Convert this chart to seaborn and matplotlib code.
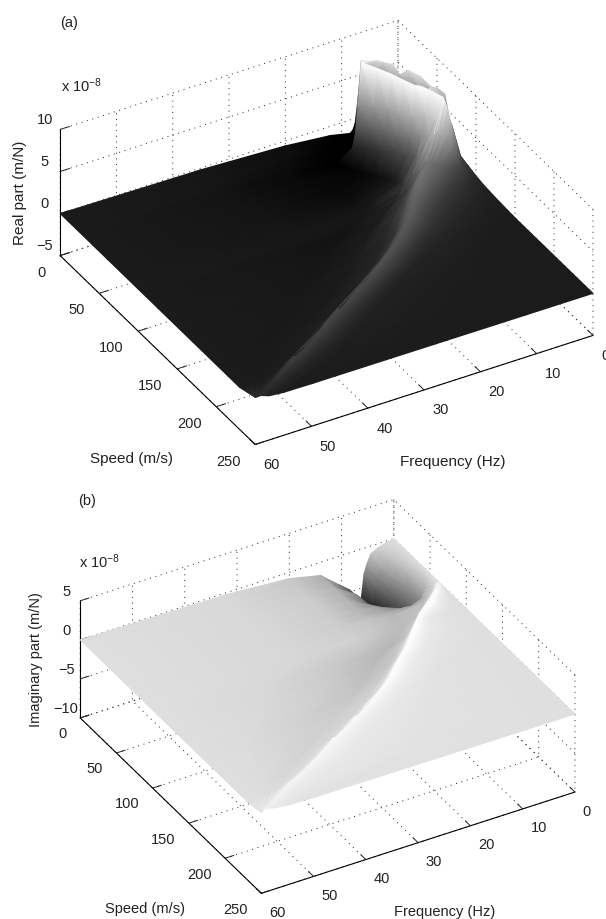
import matplotlib
matplotlib.use('Agg')
import matplotlib.pyplot as plt
import numpy as np
import seaborn as sns
from mpl_toolkits.mplot3d import proj3d

speeds = [0, 10, 20, 30, 40, 50, 60, 70, 80, 90, 95, 100, 110, 125, 140, 155, 170, 185, 200, 215, 230, 250]

# the frequency nodes follow the ridge, one row per speed
freq_re = [
    [0, 2, 4, 5, 5.8, 6.4, 7.1, 7.6, 8, 8.5, 12, 20, 35, 60],
    [0, 2, 4, 5.5, 6.5, 7.2, 8, 8.6, 9, 9.6, 13, 20, 35, 60],
    [0, 2, 4, 5.5, 6.5, 7.8, 9.3, 10, 10.4, 11, 14, 22, 35, 60],
    [0, 2, 3.8, 5, 6.5, 8, 10.5, 11.1, 11.6, 12.2, 15, 23, 36, 60],
    [0, 1.8, 3.8, 5.5, 7, 8.4, 9.3, 9.9, 10.4, 11, 14, 22, 35, 60],
    [0, 1.5, 3, 4.5, 6, 7.4, 8.2, 8.8, 9.3, 10, 13, 21, 34, 60],
    [0, 1.2, 2.4, 4, 5.5, 6.7, 7.4, 8, 8.5, 9, 12, 20, 33, 60],
    [0, 1.5, 3, 4.5, 5.5, 6, 6.5, 7.1, 7.6, 8.2, 11, 19, 32, 60],
    [0, 1.5, 3, 4, 4.7, 5.1, 5.4, 6.2, 7, 8, 11, 19, 32, 60],
    [0, 1.5, 3, 3.8, 4.2, 4.5, 5, 5.8, 7, 9, 11.5, 18, 32, 60],
    [0, 2, 3.5, 4.8, 5.6, 6.2, 6.8, 7.6, 8.8, 10.5, 13, 19, 33, 60],
    [0, 2.5, 5, 6.2, 7.6, 8.4, 9, 9.8, 10.8, 12.2, 15, 21, 34, 60],
    [0, 3, 6, 8, 9.6, 10.6, 11.3, 12.3, 13.5, 15.3, 18.5, 26, 38, 60],
    [0, 4, 7.5, 10.5, 12.4, 13.5, 14.5, 15.7, 17, 19, 23, 30, 42, 60],
    [0, 5, 9.5, 13, 15, 16.4, 17.5, 18.7, 20, 22, 27, 34, 45, 60],
    [0, 6, 12.5, 17, 18.9, 20.3, 21.5, 22.7, 24.1, 26.1, 31, 39, 48, 60],
    [0, 7, 15, 21.5, 23.7, 25.3, 26.5, 27.7, 29.1, 31.1, 36, 43, 51, 60],
    [0, 8, 18, 27, 29.5, 31.1, 32.3, 33.5, 34.9, 36.9, 41, 47, 53, 60],
    [0, 9, 20, 32.5, 35.3, 37.1, 38.5, 39.7, 41.1, 43.1, 47, 51.5, 55, 60],
    [0, 10, 23, 38, 40.9, 42.5, 44, 45.2, 46.5, 48.5, 52, 55, 57.5, 60],
    [0, 11, 26, 44, 47.4, 49, 50.5, 51.7, 53, 54.6, 56.5, 58, 59, 60],
    [0, 12, 28, 50, 55, 57.5, 59, 59.5, 59.7, 59.8, 59.85, 59.9, 59.95, 60],
]

# x 10^-8 m/N, above 10 is cut off by the z limit
re_part = [
    [2.5, 3, 3.5, 4.5, 5.5, 6.5, 2.2, -0.6, -1.3, -1.6, -1.1, -0.6, -0.2, 0],
    [3, 3.5, 4.5, 6, 7, 7.2, 6.3, 1, -0.8, -1.6, -1.2, -0.6, -0.2, 0],
    [3.5, 4.5, 6, 8, 8.4, 8.6, 9, 3, -0.5, -1.7, -1.3, -0.7, -0.2, 0],
    [4, 5, 7, 8.5, 11, 11, 9.9, 5, 2, 0.2, -1.2, -0.8, -0.3, 0],
    [4.5, 6, 8.5, 11, 11, 11, 9.9, 5.5, 3, 0.8, -1, -0.8, -0.3, 0],
    [5.5, 7, 8.5, 11, 11, 11, 9.9, 6, 3.5, 1.2, -0.9, -0.8, -0.3, 0],
    [6.6, 7.5, 8, 11, 11, 11, 9.9, 6, 3.5, 1.8, -0.6, -0.8, -0.3, 0],
    [2.6, 5, 7.5, 9, 9.6, 9.8, 9.9, 6.5, 4, 2, -0.2, -0.7, -0.3, 0],
    [1.1, 5, 8, 9.2, 9.6, 9.8, 9.8, 7.5, 5, 2.8, 0.2, -0.5, -0.25, 0],
    [0.8, 2, 6.2, 8.5, 9.4, 9.9, 8.5, 7.5, 6, 3.5, 1.2, -0.2, -0.2, 0],
    [0.65, 1.8, 4, 5.5, 6.2, 6.6, 6.4, 5.6, 4.4, 2.4, 0.7, -0.2, -0.18, 0],
    [0.5, 1.5, 2.4, 3, 3.5, 3.8, 4, 3.4, 2.4, 1.4, 0.3, -0.2, -0.15, 0],
    [0.3, 0.8, 1.5, 2.4, 3.2, 3.7, 3.9, 3.2, 2, 1, 0.1, -0.4, -0.2, 0],
    [0.15, 0.4, 0.8, 1.4, 2.2, 2.9, 3.2, 2.6, 1.5, 0.7, 0.05, -0.25, -0.15, 0],
    [0.05, 0.2, 0.5, 0.9, 1.6, 2.4, 2.9, 2.3, 1.2, 0.5, 0.05, -0.2, -0.1, 0],
    [0, 0.1, 0.3, 0.6, 1.2, 2, 2.6, 2, 1, 0.4, 0, -0.15, -0.1, 0],
    [0, 0.05, 0.2, 0.4, 1, 1.8, 2.4, 1.8, 0.9, 0.3, 0, -0.1, -0.05, 0],
    [0, 0.03, 0.12, 0.3, 0.8, 1.6, 2.2, 1.6, 0.7, 0.2, 0, -0.08, -0.03, 0],
    [0, 0.02, 0.1, 0.25, 0.7, 1.4, 2, 1.4, 0.6, 0.15, 0, -0.05, -0.02, 0],
    [0, 0.02, 0.08, 0.2, 0.6, 1.2, 1.8, 1.2, 0.5, 0.12, 0, -0.03, 0, 0],
    [0, 0.02, 0.06, 0.15, 0.5, 1.1, 1.6, 1.1, 0.4, 0.1, 0, 0, 0, 0],
    [0, 0.01, 0.03, 0.06, 0.1, 0.25, 0.6, 0.6, 0.6, 0.6, 0.6, 0.6, 0.6, 0.6],
]

freq_im = [
    [0, 1.5, 3, 4.4, 5.2, 5.7, 6.3, 7, 8.5, 10.4, 14, 20, 32, 60],
    [0, 1.2, 2.5, 3.8, 4.4, 4.9, 5.4, 6.2, 7.8, 10, 14, 20, 32, 60],
    [0, 1, 2, 3, 3.6, 4.1, 4.6, 5.5, 7.2, 10, 14, 20, 32, 60],
    [0, 0.8, 1.5, 2.3, 2.8, 3.3, 3.8, 4.8, 6.6, 10, 14, 20, 32, 60],
    [0, 0.6, 1.2, 1.8, 2.2, 2.6, 3, 4, 6, 10, 14, 20, 32, 60],
    [0, 0.4, 0.8, 1.2, 1.5, 1.7, 2, 3.2, 5.5, 10, 14, 20, 32, 60],
    [0, 0.2, 0.4, 0.6, 0.7, 0.8, 1, 2.5, 5, 10, 14, 20, 32, 60],
    [0, 0.3, 0.6, 0.8, 0.9, 1, 1.2, 2, 4, 10, 14, 20, 32, 60],
    [0, 0.8, 1.6, 2.2, 2.6, 2.9, 3.2, 3.9, 5.5, 10, 14, 20, 32, 60],
    [0, 1.5, 3, 4, 4.8, 5.4, 6, 6.8, 8.3, 11, 14.5, 20, 33, 60],
    [0, 2, 4, 5.2, 6.2, 6.9, 7.5, 8.2, 9.4, 11.3, 14.2, 20, 33, 60],
    [0, 3, 6, 7, 8, 8.5, 9, 9.6, 10.4, 11.5, 14, 20, 34, 60],
    [0, 3, 6, 8.5, 9.8, 10.6, 11.3, 12, 13, 14.5, 18, 26, 38, 60],
    [0, 4, 8, 11, 12.6, 13.6, 14.5, 15.4, 16.5, 18, 22, 30, 42, 60],
    [0, 5, 10, 14.5, 16.5, 17.6, 18.5, 19.4, 20.5, 22, 26, 34, 45, 60],
    [0, 6, 13, 17.7, 20, 21.2, 22.2, 23.2, 24.4, 26.2, 31, 39, 48, 60],
    [0, 7, 15, 22.2, 25, 26.2, 27.2, 28.2, 29.4, 31.2, 36, 43, 51, 60],
    [0, 8, 18, 27.7, 30.7, 32, 33, 34, 35.2, 37, 41, 47, 53, 60],
    [0, 9, 20, 33.2, 36.7, 38.2, 39.2, 40.2, 41.4, 43.2, 47, 51, 55, 60],
    [0, 10, 23, 38.7, 42.2, 43.7, 44.7, 45.7, 46.8, 48.2, 51, 54, 57, 60],
    [0, 11, 26, 45, 49, 50.5, 51.5, 52.5, 53.6, 55, 56.5, 57.5, 58.5, 60],
    [0, 12, 28, 50, 55, 57.5, 59, 59.5, 59.7, 59.8, 59.85, 59.9, 59.95, 60],
]

im_part = [
    [0, -0.2, -0.5, -1, -2.2, -3.3, -6.7, -6, -4.7, -3.7, -1.7, -0.8, -0.25, 0],
    [0, -0.4, -1.1, -2, -3.2, -4.2, -6.6, -6.2, -5.4, -4, -1.7, -0.8, -0.25, 0],
    [0, -0.5, -1.3, -2.6, -3.7, -4.7, -6.3, -5.9, -5.3, -3.2, -1.6, -0.75, -0.25, 0],
    [0, -0.7, -1.5, -2.8, -3.6, -4.6, -5.55, -5.3, -4.8, -3.4, -1.6, -0.7, -0.25, 0],
    [0, -0.8, -1.7, -3, -3.5, -4.1, -4.6, -4.5, -4.15, -2.8, -1.5, -0.7, -0.25, 0],
    [0, -0.7, -1.4, -2, -2.5, -2.8, -3.2, -3.5, -3.3, -2.2, -1.5, -0.7, -0.25, 0],
    [0, -0.1, -0.2, -0.4, -0.5, -0.6, -0.8, -1.6, -2.2, -1.9, -1.4, -0.65, -0.25, 0],
    [0, 0.2, 0.4, 0.5, 0.6, 0.7, 0.9, 0.1, -1.1, -1.4, -1, -0.65, -0.3, 0],
    [0, 0.1, 0.35, 0.6, 0.85, 1.05, 1.3, 0.3, -0.9, -1.3, -0.95, -0.6, -0.25, 0],
    [0, 0.07, 0.3, 0.55, 0.85, 1.1, 1.3, 0.3, -0.7, -1.3, -1.1, -0.55, -0.27, 0],
    [0, 0.06, 0.28, 0.45, 0.75, 1.05, 1.3, 0.35, -0.55, -1.15, -1.3, -0.7, -0.28, 0],
    [0, 0.05, 0.25, 0.4, 0.7, 1, 1.3, 0.4, -0.4, -1, -1.5, -0.9, -0.3, 0],
    [0, 0.05, 0.2, 0.4, 0.7, 1, 1.3, 0.5, -0.3, -0.9, -1.4, -0.8, -0.3, 0],
    [0, 0.05, 0.15, 0.35, 0.65, 0.95, 1.2, 0.5, -0.3, -0.9, -1.2, -0.7, -0.25, 0],
    [0, 0.03, 0.12, 0.35, 0.6, 0.9, 1.15, 0.5, -0.25, -0.7, -1, -0.6, -0.2, 0],
    [0, 0.03, 0.1, 0.35, 0.6, 0.9, 1.1, 0.5, -0.1, -0.5, -0.75, -0.5, -0.2, 0],
    [0, 0.02, 0.1, 0.35, 0.6, 0.85, 1.05, 0.5, -0.05, -0.4, -0.6, -0.4, -0.15, 0],
    [0, 0.02, 0.1, 0.35, 0.6, 0.85, 1, 0.5, 0, -0.3, -0.5, -0.3, -0.1, 0],
    [0, 0.02, 0.1, 0.35, 0.6, 0.8, 0.95, 0.5, 0.05, -0.25, -0.4, -0.2, -0.1, 0],
    [0, 0.01, 0.1, 0.35, 0.6, 0.75, 0.85, 0.5, 0.1, -0.15, -0.25, -0.15, -0.05, 0],
    [0, 0.01, 0.08, 0.3, 0.5, 0.65, 0.75, 0.5, 0.15, -0.05, -0.1, -0.05, 0, 0],
    [0, 0.01, 0.05, 0.1, 0.2, 0.4, 0.6, 0.6, 0.5, 0.45, 0.4, 0.35, 0.3, 0.3],
]

freq_ticks = [0, 10, 20, 30, 40, 50, 60]
speed_ticks = [0, 50, 100, 150, 200, 250]
re_ticks = [-5, 0, 5, 10]
im_ticks = [-10, -5, 0, 5]

sns.set_theme(style='white')
plt.rcParams['font.family'] = ['Liberation Sans', 'DejaVu Sans']
plt.rcParams['mathtext.default'] = 'regular'
gray_map = sns.blend_palette(['black', 'white'], as_cmap=True)

W, H = 606, 919
fig = plt.figure(figsize=(W / 100, H / 100), dpi=100)


def add_panel(center, side, zoom, zticks):
    rect = [(center[0] - side / 2) / W, 1 - (center[1] + side / 2) / H, side / W, side / H]
    ax = fig.add_axes(rect, projection='3d', proj_type='ortho')
    ax.set_facecolor('none')
    ax.view_init(elev=34, azim=60)
    ax.set_box_aspect((1, 1, 0.39), zoom=zoom)
    ax.set_xlim(0, 60)
    ax.set_ylim(0, 250)
    ax.set_zlim(zticks[0], zticks[-1])
    ax.set_xticks(freq_ticks)
    ax.set_yticks(speed_ticks)
    ax.set_zticks(zticks)
    for axis in (ax.xaxis, ax.yaxis, ax.zaxis):
        axis.set_pane_color((1, 1, 1, 0))
        axis.pane.set_edgecolor('none')
        axis.line.set_color('black')
        axis.line.set_linewidth(0.8)
        axis._axinfo['grid'].update(color='#222222', linestyle=(0, (1, 4.8)), linewidth=0.7)
        axis._axinfo['tick'].update(inward_factor=0, outward_factor=0.35)
        axis._axinfo['tick']['linewidth'] = {True: 0.7, False: 0.7}
    ax.tick_params(labelsize=10.5, colors='#222222', pad=1)
    ax.tick_params(axis='z', pad=-2)
    plt.setp(ax.get_xticklabels(), ha='left')
    plt.setp(ax.get_yticklabels(), ha='right')
    plt.setp(ax.get_zticklabels(), va='bottom')
    return ax


# surface drawn with interpolated shading, like the original, on a top layer in pixels
top = fig.add_axes([0, 0, 1, 1], label='surfaces')
top.axis('off')


def draw_surface(ax, freq, values, clim):
    F = np.array(freq, dtype=float)
    S = np.tile(np.array(speeds, dtype=float)[:, None], (1, F.shape[1]))
    Z = np.array(values, dtype=float)
    xp, yp, depth = proj3d.proj_transform(F.ravel(), S.ravel(), Z.ravel(), ax.get_proj())
    pts = ax.transData.transform(np.column_stack([xp, yp]))
    nrow, ncol = F.shape
    tris = []
    for i in range(nrow - 1):
        for j in range(ncol - 1):
            a = i * ncol + j
            b = a + 1
            c = a + ncol
            d = c + 1
            tris.append([a, b, d])
            tris.append([a, d, c])
    tris = np.array(tris)
    zlow, zhigh = ax.get_zlim()
    z = Z.ravel()
    tris = tris[((z[tris] <= zhigh) & (z[tris] >= zlow)).all(axis=1)]
    tris = tris[np.argsort(-depth[tris].mean(axis=1))]
    top.tripcolor(pts[:, 0], pts[:, 1], tris, z, shading='gouraud', cmap=gray_map, vmin=clim[0], vmax=clim[1])


ax_a = add_panel((319, 240), 560, 0.992, re_ticks)
ax_b = add_panel((320, 704), 560, 0.921, im_ticks)
top.set_zorder(5)
draw_surface(ax_a, freq_re, re_part, (-1.2, 10))
draw_surface(ax_b, freq_im, im_part, (-8, 1.15))
top.set_xlim(0, W)
top.set_ylim(0, H)


def label(x, y, text, **kw):
    kw.setdefault('ha', 'center')
    kw.setdefault('va', 'center')
    fig.text(x / W, 1 - y / H, text, color='#222222', **kw)


label(69, 23, '(a)', fontsize=10.5)
label(61, 86, 'x 10$^{-8}$', fontsize=10.5, ha='left')
label(20, 193, 'Real part (m/N)', fontsize=11, rotation=90)
label(131, 459, 'Speed (m/s)', fontsize=11)
label(453, 462, 'Frequency (Hz)', fontsize=11)
label(87, 501, '(b)', fontsize=10.5)
label(79, 562, 'x 10$^{-8}$', fontsize=10.5, ha='left')
label(36, 660, 'Imaginary part (m/N)', fontsize=10.5, rotation=90)
label(145, 909, 'Speed (m/s)', fontsize=10.5)
label(445, 912, 'Frequency (Hz)', fontsize=10.5)

fig.savefig('out.png', dpi=100)
